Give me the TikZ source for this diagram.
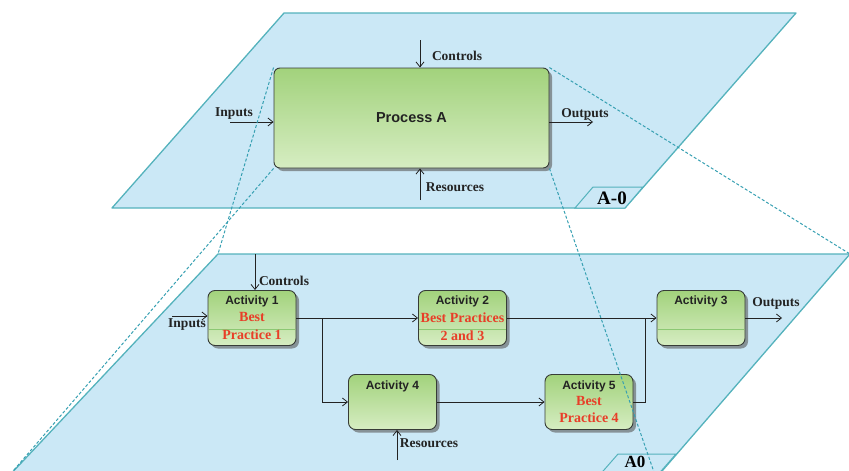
\documentclass[tikz,border=0pt]{standalone}
\usepackage{fontspec}
\setmainfont{Liberation Serif}
\setsansfont{Liberation Sans}
\usetikzlibrary{arrows.meta,shadows,calc}
\definecolor{planefill}{RGB}{203,232,246}
\definecolor{planeedge}{RGB}{84,178,188}
\definecolor{dashc}{RGB}{55,160,178}
\definecolor{boxtop}{RGB}{162,210,124}
\definecolor{boxbot}{RGB}{214,237,194}
\definecolor{boxline}{RGB}{55,60,55}
\definecolor{redtxt}{RGB}{232,62,40}
\definecolor{ink}{RGB}{35,35,35}
\definecolor{divc}{RGB}{140,200,115}
\begin{document}
\begin{tikzpicture}[x=1pt,y=-1pt,
 plane/.style={fill=planefill, draw=planeedge, line width=1.3pt, line join=round},
 tabbox/.style={draw=planeedge, line width=1pt, fill=planefill},
 proj/.style={draw=dashc, dash pattern=on 3pt off 2pt, line width=1pt},
 actbox/.style={draw=boxline, line width=0.9pt, rounded corners=7pt, top color=boxtop, bottom color=boxbot,
   drop shadow={shadow xshift=3pt, shadow yshift=-3pt, fill=black!65, opacity=0.6}},
 arr/.style={draw=ink, line width=0.8pt, -{Straight Barb[length=5pt,width=8pt]}},
 flow/.style={draw=ink, line width=0.8pt},
 lbl/.style={font=\fontsize{13.5}{15}\selectfont\bfseries, text=ink, inner sep=0pt},
 ttl/.style={font=\sffamily\bfseries\fontsize{12}{14}\selectfont, text=ink, inner sep=0pt},
 bp/.style={font=\fontsize{14}{17.5}\selectfont\bfseries, text=redtxt, align=center, inner sep=0pt},
 tabtxt/.style={font=\fontsize{19}{21}\selectfont\bfseries, text=black, inner sep=0pt},
 divider/.style={draw=divc, line width=0.7pt},
]
\path[use as bounding box] (0,0) rectangle (849,471);
\clip (0,0) rectangle (849,471);

% planes
\draw[plane] (284,13) -- (796,13) -- (625,208) -- (112,208) -- cycle;
\draw[tabbox] (575,208) -- (593,187) -- (643,187) -- (625,208) -- cycle;
\node[tabtxt] (tA0top) at (612,198) {A-0};

\draw[plane] (218,254) -- (850,254) -- (656,478) -- (7,478) -- cycle;
\draw[tabbox] (597,478) -- (618,454) -- (676,454) -- (655,478) -- cycle;
\node[tabtxt, font=\fontsize{17}{19}\selectfont\bfseries, anchor=base] (tA0) at (635,467.5) {A0};

\coordinate (P1) at (218,254);
\coordinate (P2) at (850,254);
\coordinate (P3) at (656,478);
\coordinate (P4) at (7,478);

% process A
\node[actbox, rounded corners=6pt, minimum width=275pt, minimum height=100pt,
      font=\sffamily\bfseries\fontsize{14.5}{16}\selectfont, text=ink] (pa) at (411.5,118) {Process A};

\coordinate (cTop) at (420,40);
\coordinate (rTop) at (420,200);
\coordinate (iTop) at (230,122);
\coordinate (oTop) at (593,122);
\draw[arr] (cTop) -- (cTop |- pa.north);
\draw[arr] (rTop) -- (rTop |- pa.south);
\draw[arr] (iTop) -- (iTop -| pa.west);
\draw[arr] (oTop -| pa.east) -- (oTop);
\node[lbl] (lcTop) at (457,56) {Controls};
\node[lbl] (lrTop) at (455,187) {Resources};
\node[lbl] (liTop) at (234,114) {Inputs};
\node[lbl] (loTop) at (585,114) {Outputs};

% activities
\node[actbox, minimum width=88pt, minimum height=55pt] (a1) at (252,318) {};
\node[actbox, minimum width=88pt, minimum height=55pt] (a2) at (462.5,318) {};
\node[actbox, minimum width=88pt, minimum height=55pt] (a3) at (701,318) {};
\node[actbox, minimum width=88pt, minimum height=55pt] (a4) at (392.5,402) {};
\node[actbox, minimum width=88pt, minimum height=55pt] (a5) at (589,402) {};

\foreach \b in {a1,a2,a3}{
  \draw[divider] ($(\b.west)+(1,11)$) -- ($(\b.east)+(-1,11)$);
}

\node[ttl] (t1) at ($(a1.north)+(0,11)$) {Activity 1};
\node[ttl] (t2) at ($(a2.north)+(0,11)$) {Activity 2};
\node[ttl] (t3) at ($(a3.north)+(0,11)$) {Activity 3};
\node[ttl] (t4) at ($(a4.north)+(0,12)$) {Activity 4};
\node[ttl] (t5) at ($(a5.north)+(0,12)$) {Activity 5};

\node[bp] (b1) at (252,326) {Best\\Practice 1};
\node[bp] (b2) at (462.5,326.5) {Best Practices\\2 and 3};
\node[bp] (b5) at (589,409.5) {Best\\Practice 4};

% flows
\coordinate (br) at (322,318);
\coordinate (mg) at (645,318);
\draw[arr] (a1.east) -- (a2.west);
\draw[arr] (br) |- (a4.west);
\draw[arr] (a4.east) -- (a5.west);
\draw[arr] (a2.east) -- (a3.west);
\draw[flow] (a5.east) -| (mg);

\coordinate (cBot) at (255,254);
\coordinate (iBot) at (172,316);
\coordinate (rBot) at (397,460);
\coordinate (oBot) at (782,318);
\draw[arr] (cBot) -- (cBot |- a1.north);
\draw[arr] (iBot) -- (iBot -| a1.west);
\draw[arr] (rBot) -- (rBot |- a4.south);
\draw[arr] (a3.east) -- (oBot);
\node[lbl] (lcBot) at (284,281) {Controls};
\node[lbl] (liBot) at (187,325) {Inputs};
\node[lbl] (lrBot) at (429,443) {Resources};
\node[lbl] (loBot) at (776,303) {Outputs};

% projection lines
\draw[proj] (pa.north west) -- (P1);
\draw[proj] (pa.south west) -- (P4);
\draw[proj] (pa.north east) -- (P2);
\draw[proj] (pa.south east) -- (P3);
\end{tikzpicture}
\end{document}
